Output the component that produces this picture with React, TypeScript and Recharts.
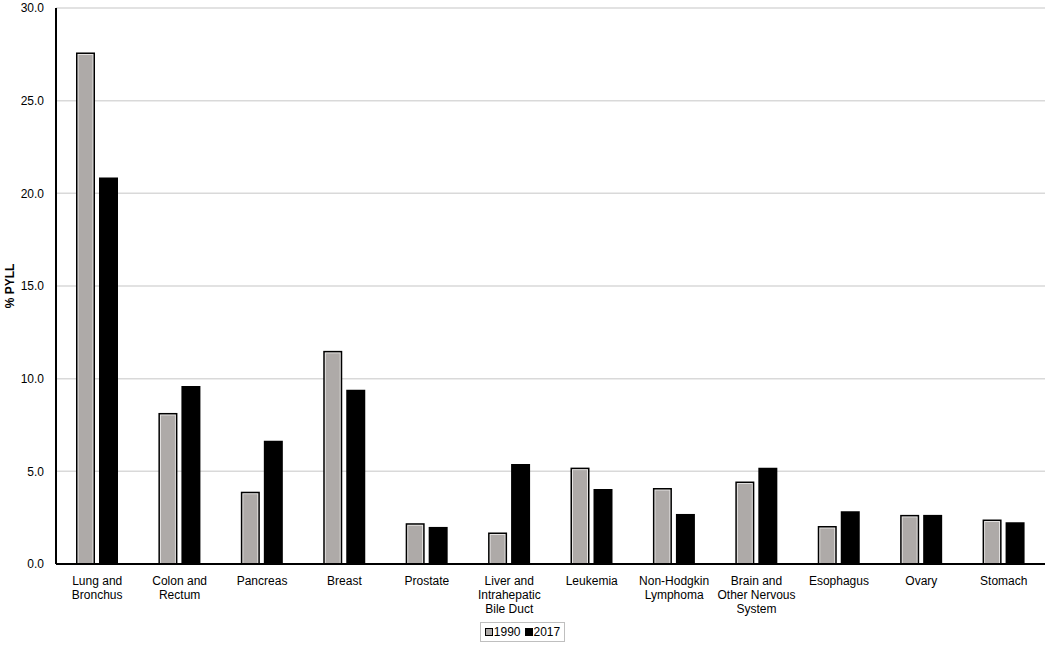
import React from "react";
import { BarChart, Bar, XAxis, YAxis, CartesianGrid, Legend } from "recharts";

const categories = [
  "Lung and\nBronchus",
  "Colon and\nRectum",
  "Pancreas",
  "Breast",
  "Prostate",
  "Liver and\nIntrahepatic\nBile Duct",
  "Leukemia",
  "Non-Hodgkin\nLymphoma",
  "Brain and\nOther Nervous\nSystem",
  "Esophagus",
  "Ovary",
  "Stomach",
];
const values1990 = [27.6, 8.15, 3.9, 11.5, 2.2, 1.7, 5.2, 4.1, 4.45, 2.05, 2.65, 2.4];
const values2017 = [20.85, 9.6, 6.65, 9.4, 2.0, 5.4, 4.05, 2.7, 5.2, 2.85, 2.65, 2.25];
const yTicks = [0, 5, 10, 15, 20, 25, 30];

const data = categories.map((c, i) => ({ name: c, y1990: values1990[i], y2017: values2017[i] }));

const FONT = "Arial, 'Liberation Sans', sans-serif";

const GrayBar = (props: any) => {
  const { x, y, width, height } = props;
  if (!height || height <= 0) return null;
  return (
    <g>
      <rect x={x} y={y} width={width} height={height} fill="#000" />
      <rect x={x + 1.5} y={y + 1.5} width={width - 3} height={height - 1.5} fill="#e6e4e3" />
      <rect x={x + 2.5} y={y + 2.5} width={width - 5} height={height - 2.5} fill="#aeaaa8" />
    </g>
  );
};

const XTick = (props: any) => {
  const { x, y, payload } = props;
  const lines = String(payload.value).split("\n");
  return (
    <text x={x} y={y} textAnchor="middle" fontFamily={FONT} fontSize={12} fill="#000">
      {lines.map((l, i) => (
        <tspan key={i} x={x} dy={i === 0 ? 13 : 14}>
          {l}
        </tspan>
      ))}
    </text>
  );
};

const LegendContent = () => (
  <div style={{ display: "flex", justifyContent: "center" }}>
    <div
      style={{
        border: "1px solid #bfbfbf",
        padding: "2px 4px",
        display: "flex",
        alignItems: "center",
        fontFamily: FONT,
        fontSize: 12,
        color: "#000",
        marginLeft: 0,
        marginTop: 4,
      }}
    >
      <span style={{ display: "inline-block", width: 6, height: 6, background: "#aeaaa8", border: "1px solid #000", marginRight: 1 }} />
      <span style={{ marginRight: 4 }}>1990</span>
      <span style={{ display: "inline-block", width: 8, height: 8, background: "#000", marginRight: 1 }} />
      <span>2017</span>
    </div>
  </div>
);

export default function App() {
  return (
    <div style={{ position: "absolute", left: 0, top: 0, background: "#fff" }}>
      <BarChart
        width={1050}
        height={648}
        data={data}
        margin={{ top: 8, right: 5, left: 0, bottom: 0 }}
        barGap={4}
        barSize={19}
      >
        <CartesianGrid vertical={false} stroke="#d9d9d9" strokeWidth={1.5} />
        <XAxis
          dataKey="name"
          interval={0}
          height={54}
          tickLine={false}
          axisLine={{ stroke: "#000", strokeWidth: 2 }}
          tick={<XTick />}
        />
        <YAxis
          width={56}
          domain={[0, 30]}
          ticks={yTicks}
          tickFormatter={(v: number) => v.toFixed(1)}
          tickLine={false}
          axisLine={{ stroke: "#000", strokeWidth: 2 }}
          tick={{ fontFamily: FONT, fontSize: 12, fill: "#000" }}
          tickMargin={6}
          label={{
            value: "% PYLL",
            angle: -90,
            position: "insideLeft",
            offset: 10,
            style: { fontFamily: FONT, fontSize: 12, fontWeight: "bold", fill: "#000", textAnchor: "middle" },
          }}
        />
        <Legend verticalAlign="bottom" height={30} content={<LegendContent />} />
        <Bar dataKey="y1990" shape={<GrayBar />} isAnimationActive={false} />
        <Bar dataKey="y2017" fill="#000" isAnimationActive={false} />
      </BarChart>
    </div>
  );
}
